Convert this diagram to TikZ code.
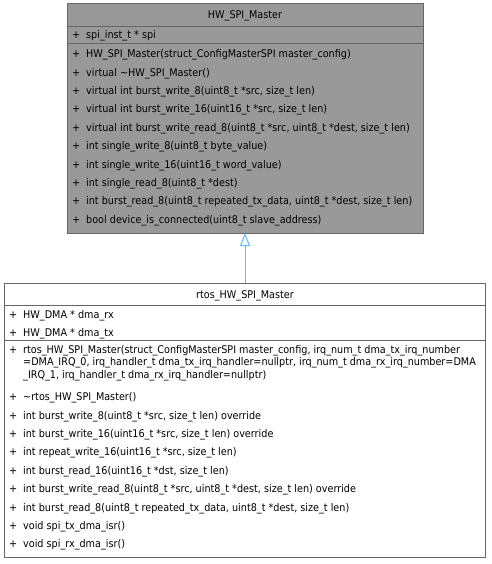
\documentclass[tikz,border=0pt]{standalone}
\usepackage{fontspec}
\setmainfont[FakeStretch=0.91]{DejaVu Sans}
\usetikzlibrary{arrows.meta}
\definecolor{boxgray}{HTML}{999999}
\definecolor{edgegray}{HTML}{666666}
\definecolor{inherit}{HTML}{63B8FF}

\begin{document}
\begin{tikzpicture}[x=1pt,y=-1pt,
  classbox/.style={draw=edgegray,line width=1pt,inner sep=0pt,outer sep=0pt},
  member/.style={anchor=base west,inner sep=0pt,align=left,font=\fontsize{10.6}{12.5}\selectfont},
  classname/.style={anchor=base,inner sep=0pt,font=\fontsize{10.6}{12.5}\selectfont}]
\useasboundingbox[fill=white] (0,0) rectangle (491,564);
\node[classbox,fill=boxgray,minimum width=356pt,minimum height=229pt] (hwspi) at (245,118.5) {};
\draw[edgegray] (67,26) -- (423,26);
\draw[edgegray] (67,43) -- (423,43);
\node[classname] (hwspiname) at (245,19) {HW\_SPI\_Master};
\node[member] (spi) at (72,39) {\makebox[14pt][l]{+}spi\_inst\_t * spi};
\node[member] (ma) at (72,58) {\makebox[14pt][l]{+}HW\_SPI\_Master(struct\_ConfigMasterSPI master\_config)};
\node[member] (mb) at (72,76.3) {\makebox[14pt][l]{+}virtual \textasciitilde HW\_SPI\_Master()};
\node[member] (mc) at (72,94.7) {\makebox[14pt][l]{+}virtual int burst\_write\_8(uint8\_t *src, size\_t len)};
\node[member] (md) at (72,113) {\makebox[14pt][l]{+}virtual int burst\_write\_16(uint16\_t *src, size\_t len)};
\node[member] (me) at (72,131.3) {\makebox[14pt][l]{+}virtual int burst\_write\_read\_8(uint8\_t *src, uint8\_t *dest, size\_t len)};
\node[member] (mf) at (72,149.7) {\makebox[14pt][l]{+}int single\_write\_8(uint8\_t byte\_value)};
\node[member] (mg) at (72,168) {\makebox[14pt][l]{+}int single\_write\_16(uint16\_t word\_value)};
\node[member] (mh) at (72,186.3) {\makebox[14pt][l]{+}int single\_read\_8(uint8\_t *dest)};
\node[member] (mi) at (72,204.7) {\makebox[14pt][l]{+}int burst\_read\_8(uint8\_t repeated\_tx\_data, uint8\_t *dest, size\_t len)};
\node[member] (mj) at (72,223) {\makebox[14pt][l]{+}bool device\_is\_connected(uint8\_t slave\_address)};

\node[classbox,fill=white,minimum width=481pt,minimum height=274pt] (rtosspi) at (245,420) {};
\draw[edgegray] (4.5,305) -- (485.5,305);
\draw[edgegray] (4.5,340) -- (485.5,340);
\node[classname] (rtosspiname) at (245,298) {rtos\_HW\_SPI\_Master};
\node[member] (dmarx) at (9,318) {\makebox[14pt][l]{+}HW\_DMA * dma\_rx};
\node[member] (dmatx) at (9,336.5) {\makebox[14pt][l]{+}HW\_DMA * dma\_tx};
\node[member,anchor=north west] (ra) at (9,345) {\makebox[14pt][l]{+}rtos\_HW\_SPI\_Master(struct\_ConfigMasterSPI master\_config, irq\_num\_t dma\_tx\_irq\_number\\
\hspace*{14pt}=DMA\_IRQ\_0, irq\_handler\_t dma\_tx\_irq\_handler=nullptr, irq\_num\_t dma\_rx\_irq\_number=DMA\\
\hspace*{14pt}\_IRQ\_1, irq\_handler\_t dma\_rx\_irq\_handler=nullptr)};
\node[member] (rb) at (9,400.5) {\makebox[14pt][l]{+}\textasciitilde rtos\_HW\_SPI\_Master()};
\node[member] (rc) at (9,419) {\makebox[14pt][l]{+}int burst\_write\_8(uint8\_t *src, size\_t len) override};
\node[member] (rd) at (9,437.4) {\makebox[14pt][l]{+}int burst\_write\_16(uint16\_t *src, size\_t len) override};
\node[member] (re) at (9,455.8) {\makebox[14pt][l]{+}int repeat\_write\_16(uint16\_t *src, size\_t len)};
\node[member] (rf) at (9,474.2) {\makebox[14pt][l]{+}int burst\_read\_16(uint16\_t *dst, size\_t len)};
\node[member] (rg) at (9,492.6) {\makebox[14pt][l]{+}int burst\_write\_read\_8(uint8\_t *src, uint8\_t *dest, size\_t len) override};
\node[member] (rh) at (9,511) {\makebox[14pt][l]{+}int burst\_read\_8(uint8\_t repeated\_tx\_data, uint8\_t *dest, size\_t len)};
\node[member] (ri) at (9,529.4) {\makebox[14pt][l]{+}void spi\_tx\_dma\_isr()};
\node[member] (rj) at (9,547.8) {\makebox[14pt][l]{+}void spi\_rx\_dma\_isr()};

\draw[inherit,line width=1pt,-{Triangle[open,length=13pt,width=10pt]}] (rtosspi.north) -- (hwspi.south);
\end{tikzpicture}
\end{document}
